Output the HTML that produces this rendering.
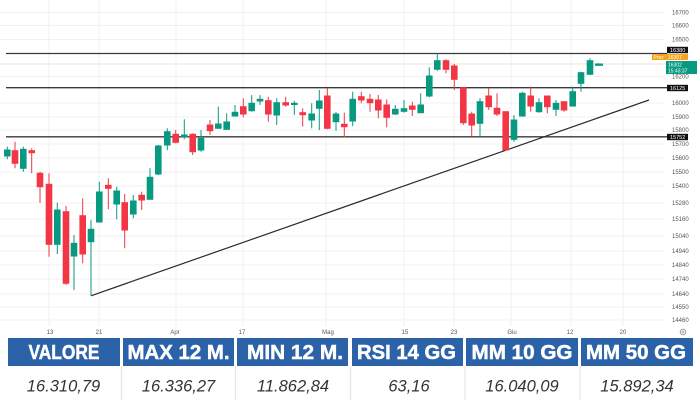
<!DOCTYPE html>
<html>
<head>
<meta charset="utf-8">
<style>
html,body{margin:0;padding:0;background:#fff;}
body{width:700px;height:400px;overflow:hidden;font-family:"Liberation Sans",sans-serif;}
svg{display:block;}
</style>
</head>
<body>
<svg width="700" height="400" viewBox="0 0 700 400" xmlns="http://www.w3.org/2000/svg" font-family="Liberation Sans, sans-serif">
<rect width="700" height="400" fill="#fff"/>
<!-- grid -->
<g stroke="#f1f1f1" stroke-width="1">
<line x1="49" y1="0" x2="49" y2="326"/>
<line x1="99" y1="0" x2="99" y2="326"/>
<line x1="176" y1="0" x2="176" y2="326"/>
<line x1="243" y1="0" x2="243" y2="326"/>
<line x1="326" y1="0" x2="326" y2="326"/>
<line x1="404" y1="0" x2="404" y2="326"/>
<line x1="454" y1="0" x2="454" y2="326"/>
<line x1="511" y1="0" x2="511" y2="326"/>
<line x1="571" y1="0" x2="571" y2="326"/>
<line x1="623" y1="0" x2="623" y2="326"/>
<line x1="0" y1="12.5" x2="664" y2="12.5"/>
<line x1="0" y1="25.5" x2="664" y2="25.5"/>
<line x1="0" y1="39.5" x2="664" y2="39.5"/>
<line x1="0" y1="76.5" x2="664" y2="76.5"/>
<line x1="0" y1="103" x2="664" y2="103"/>
<line x1="0" y1="117" x2="664" y2="117"/>
<line x1="0" y1="130" x2="664" y2="130"/>
<line x1="0" y1="144" x2="664" y2="144"/>
<line x1="0" y1="158" x2="664" y2="158"/>
<line x1="0" y1="172" x2="664" y2="172"/>
<line x1="0" y1="186" x2="664" y2="186"/>
<line x1="0" y1="203" x2="664" y2="203"/>
<line x1="0" y1="219" x2="664" y2="219"/>
<line x1="0" y1="236" x2="664" y2="236"/>
<line x1="0" y1="251" x2="664" y2="251"/>
<line x1="0" y1="265" x2="664" y2="265"/>
<line x1="0" y1="279" x2="664" y2="279"/>
<line x1="0" y1="294" x2="664" y2="294"/>
<line x1="0" y1="307" x2="664" y2="307"/>
<line x1="0" y1="320" x2="664" y2="320"/>
</g>
<!-- current price faint line -->
<line x1="0" y1="64" x2="666" y2="64" stroke="#e9dcbc" stroke-width="0.8"/>
<!-- horizontal levels -->
<g stroke="#3a3a3a" stroke-width="1.3">
<line x1="6" y1="53.5" x2="667" y2="53.5"/>
<line x1="6" y1="87.7" x2="667" y2="87.7"/>
<line x1="6" y1="136.8" x2="667" y2="136.8"/>
</g>
<!-- trend line -->
<line x1="91" y1="295.8" x2="649" y2="100" stroke="#2a2a2a" stroke-width="1.2"/>

<!-- green candles -->
<g fill="#089981" stroke="#089981" stroke-width="1">
<line x1="7.3" y1="146.7" x2="7.3" y2="159.3"/><rect x="4.5" y="150" width="5.6" height="6"/>
<line x1="23.3" y1="146.7" x2="23.3" y2="171.7"/><rect x="20.5" y="149.3" width="5.6" height="19"/>
<line x1="57.3" y1="202.7" x2="57.3" y2="254"/><rect x="54.5" y="210" width="5.6" height="34.3"/>
<line x1="74" y1="235" x2="74" y2="290"/><rect x="71.2" y="243.3" width="5.6" height="12.7"/>
<line x1="91" y1="220" x2="91" y2="295.7"/><rect x="88.2" y="229.3" width="5.6" height="12.4"/>
<line x1="99.3" y1="181.7" x2="99.3" y2="222"/><rect x="96.5" y="192" width="5.6" height="30"/>
<line x1="116.7" y1="186.7" x2="116.7" y2="219.3"/><rect x="113.9" y="191" width="5.6" height="13"/>
<line x1="133.3" y1="195" x2="133.3" y2="218.3"/><rect x="130.5" y="201" width="5.6" height="13"/>
<line x1="150" y1="168.3" x2="150" y2="199.3"/><rect x="147.2" y="177.3" width="5.6" height="22"/>
<line x1="158.3" y1="145" x2="158.3" y2="175"/><rect x="155.5" y="146" width="5.6" height="28"/>
<line x1="167.3" y1="128.3" x2="167.3" y2="150"/><rect x="164.5" y="131.7" width="5.6" height="13.3"/>
<line x1="184.3" y1="119.3" x2="184.3" y2="139.3"/><rect x="181.5" y="135" width="5.6" height="1.7"/>
<line x1="201" y1="130" x2="201" y2="151.7"/><rect x="198.2" y="138.3" width="5.6" height="11.7"/>
<line x1="218.3" y1="106.7" x2="218.3" y2="128.3"/><rect x="215.5" y="124" width="5.6" height="4.3"/>
<line x1="226.7" y1="113.3" x2="226.7" y2="130"/><rect x="223.9" y="122" width="5.6" height="7.3"/>
<line x1="235" y1="105" x2="235" y2="116"/><rect x="232.2" y="112.3" width="5.6" height="3.7"/>
<line x1="251.7" y1="95" x2="251.7" y2="111.7"/><rect x="248.9" y="103.3" width="5.6" height="7.4"/>
<line x1="260" y1="95" x2="260" y2="105"/><rect x="257.2" y="99.3" width="5.6" height="1.7"/>
<line x1="276.7" y1="98.3" x2="276.7" y2="125"/><rect x="273.9" y="102.7" width="5.6" height="12.3"/>
<line x1="294.3" y1="100.7" x2="294.3" y2="115"/><rect x="291.5" y="103.3" width="5.6" height="1.2"/>
<line x1="311.7" y1="103.3" x2="311.7" y2="128.3"/><rect x="308.9" y="114" width="5.6" height="6"/>
<line x1="319.3" y1="90" x2="319.3" y2="130"/><rect x="316.5" y="101" width="5.6" height="7.3"/>
<line x1="336" y1="111.7" x2="336" y2="130.7"/><rect x="333.2" y="114" width="5.6" height="7.7"/>
<line x1="352.7" y1="91.7" x2="352.7" y2="126"/><rect x="349.9" y="99.3" width="5.6" height="21.7"/>
<line x1="395.3" y1="105" x2="395.3" y2="115"/><rect x="392.5" y="109.3" width="5.6" height="4.7"/>
<line x1="404" y1="100" x2="404" y2="112.7"/><rect x="401.2" y="108.7" width="5.6" height="2.6"/>
<line x1="420.7" y1="93.3" x2="420.7" y2="113.3"/><rect x="417.9" y="105" width="5.6" height="7.7"/>
<line x1="429.3" y1="67.3" x2="429.3" y2="97.3"/><rect x="426.5" y="76" width="5.6" height="20"/>
<line x1="437.3" y1="53.3" x2="437.3" y2="70.7"/><rect x="434.5" y="60.7" width="5.6" height="8.6"/>
<line x1="480" y1="98.3" x2="480" y2="136.7"/><rect x="477.2" y="101.7" width="5.6" height="21.6"/>
<line x1="514" y1="115" x2="514" y2="141.7"/><rect x="511.2" y="120" width="5.6" height="19.3"/>
<line x1="522.3" y1="91.7" x2="522.3" y2="116.7"/><rect x="519.5" y="93.3" width="5.6" height="22.7"/>
<line x1="539" y1="98.3" x2="539" y2="112.7"/><rect x="536.2" y="102.7" width="5.6" height="9"/>
<line x1="556" y1="100" x2="556" y2="116"/><rect x="553.2" y="103.3" width="5.6" height="6"/>
<line x1="572.7" y1="86.7" x2="572.7" y2="106.7"/><rect x="569.9" y="91.7" width="5.6" height="14.3"/>
<line x1="581" y1="71.7" x2="581" y2="91.7"/><rect x="578.2" y="72.7" width="5.6" height="10.6"/>
<line x1="590" y1="58.3" x2="590" y2="75"/><rect x="587.2" y="60.7" width="5.6" height="13.6"/>
<line x1="598.3" y1="63" x2="598.3" y2="66"/><rect x="595.5" y="64" width="7" height="1.3"/>
</g>

<!-- red candles -->
<g fill="#f23645" stroke="#f23645" stroke-width="1">
<line x1="15" y1="141.7" x2="15" y2="168.3"/><rect x="12.2" y="150.7" width="5.6" height="12.6"/>
<line x1="31.7" y1="148.3" x2="31.7" y2="173.3"/><rect x="28.9" y="150.7" width="5.6" height="2"/>
<line x1="40" y1="171.7" x2="40" y2="202.7"/><rect x="37.2" y="173.3" width="5.6" height="13.4"/>
<line x1="49" y1="173.3" x2="49" y2="256.7"/><rect x="46.2" y="184.3" width="5.6" height="60"/>
<line x1="66" y1="206" x2="66" y2="285"/><rect x="63.2" y="211.7" width="5.6" height="71.6"/>
<line x1="82.7" y1="198.3" x2="82.7" y2="263.3"/><rect x="79.9" y="215.7" width="5.6" height="38.3"/>
<line x1="108.3" y1="178.3" x2="108.3" y2="209.3"/><rect x="105.5" y="185.3" width="5.6" height="3"/>
<line x1="124.7" y1="194" x2="124.7" y2="248.3"/><rect x="121.9" y="202.7" width="5.6" height="27.3"/>
<line x1="141.7" y1="191.7" x2="141.7" y2="210"/><rect x="138.9" y="195.3" width="5.6" height="4.7"/>
<line x1="175.7" y1="130" x2="175.7" y2="143.3"/><rect x="172.9" y="134.3" width="5.6" height="8"/>
<line x1="192.7" y1="133.3" x2="192.7" y2="155"/><rect x="189.9" y="134.3" width="5.6" height="17.4"/>
<line x1="210" y1="120" x2="210" y2="135"/><rect x="207.2" y="125" width="5.6" height="5.7"/>
<line x1="243.3" y1="98.3" x2="243.3" y2="117.3"/><rect x="240.5" y="106.7" width="5.6" height="7.3"/>
<line x1="268.3" y1="96.7" x2="268.3" y2="121.7"/><rect x="265.5" y="100.7" width="5.6" height="13.3"/>
<line x1="285.7" y1="96.7" x2="285.7" y2="106.7"/><rect x="282.9" y="102.7" width="5.6" height="2.3"/>
<line x1="302.7" y1="108.3" x2="302.7" y2="126.7"/><rect x="299.9" y="112.7" width="5.6" height="2"/>
<line x1="327.3" y1="88.3" x2="327.3" y2="129.3"/><rect x="324.5" y="96" width="5.6" height="32.3"/>
<line x1="344.3" y1="112.7" x2="344.3" y2="137.3"/><rect x="341.5" y="124.3" width="5.6" height="2.4"/>
<line x1="361.3" y1="91.7" x2="361.3" y2="103.3"/><rect x="358.5" y="96.7" width="5.6" height="3.3"/>
<line x1="370" y1="94" x2="370" y2="111.7"/><rect x="367.2" y="99.3" width="5.6" height="3.4"/>
<line x1="378.3" y1="95" x2="378.3" y2="118.3"/><rect x="375.5" y="100" width="5.6" height="10"/>
<line x1="386.7" y1="99.3" x2="386.7" y2="127.3"/><rect x="383.9" y="105" width="5.6" height="12.3"/>
<line x1="412.3" y1="101.7" x2="412.3" y2="116"/><rect x="409.5" y="106" width="5.6" height="3.3"/>
<line x1="446" y1="59.3" x2="446" y2="73.3"/><rect x="443.2" y="60.7" width="5.6" height="8.6"/>
<line x1="454.3" y1="64" x2="454.3" y2="90"/><rect x="451.5" y="66" width="5.6" height="13.3"/>
<line x1="463.3" y1="87.7" x2="463.3" y2="125"/><rect x="460.5" y="87.7" width="5.6" height="35"/>
<line x1="471.7" y1="111.7" x2="471.7" y2="136.7"/><rect x="468.9" y="114" width="5.6" height="11"/>
<line x1="488.7" y1="88.3" x2="488.7" y2="110"/><rect x="485.9" y="96" width="5.6" height="10.7"/>
<line x1="497" y1="93.3" x2="497" y2="116"/><rect x="494.2" y="108.3" width="5.6" height="5.7"/>
<line x1="505.7" y1="111.7" x2="505.7" y2="150.7"/><rect x="502.9" y="111.7" width="5.6" height="38.3"/>
<line x1="530.7" y1="86.7" x2="530.7" y2="111.7"/><rect x="527.9" y="96" width="5.6" height="10"/>
<line x1="547.3" y1="96" x2="547.3" y2="113.3"/><rect x="544.5" y="96" width="5.6" height="10.7"/>
<line x1="564" y1="101.7" x2="564" y2="111.7"/><rect x="561.2" y="101.7" width="5.6" height="8.3"/>
</g>

<!-- price axis labels -->
<g font-size="6" fill="#555">
<text x="672" y="14.5">16700</text>
<text x="672" y="27.5">16600</text>
<text x="672" y="41.5">16500</text>
<text x="672" y="78.5">16200</text>
<text x="672" y="105">16000</text>
<text x="672" y="119">15900</text>
<text x="672" y="132">15800</text>
<text x="672" y="146">15700</text>
<text x="672" y="160">15600</text>
<text x="672" y="174">15500</text>
<text x="672" y="188">15400</text>
<text x="672" y="205">15280</text>
<text x="672" y="221">15160</text>
<text x="672" y="238">15040</text>
<text x="672" y="253">14940</text>
<text x="672" y="267">14840</text>
<text x="672" y="281">14740</text>
<text x="672" y="296">14640</text>
<text x="672" y="309">14550</text>
<text x="672" y="322">14460</text>
</g>
<!-- level boxes -->
<g font-size="5.5" fill="#fff">
<rect x="667" y="46.8" width="21" height="6.4" fill="#111"/>
<text x="670" y="51.8">16380</text>
<rect x="667" y="84.8" width="21" height="6.4" fill="#111"/>
<text x="670" y="89.8">16125</text>
<rect x="667" y="133.8" width="21" height="6.4" fill="#111"/>
<text x="670" y="138.8">15752</text>
<rect x="652" y="54" width="36" height="6" fill="#f7a21b"/>
<text x="653.5" y="58.8" font-size="5">Prec</text>
<text x="668" y="58.8" font-size="5">16307</text>
<rect x="666" y="61" width="31" height="13" fill="#089981"/>
<text x="668" y="66.5" font-size="5">16302</text>
<text x="668" y="72.3" font-size="5">15:43:37</text>
</g>
<!-- x-axis labels -->
<g font-size="6" fill="#555" text-anchor="middle">
<text x="50" y="334">13</text>
<text x="99" y="334">21</text>
<text x="175" y="334">Apr</text>
<text x="242" y="334">17</text>
<text x="328" y="334">Mag</text>
<text x="405" y="334">15</text>
<text x="454" y="334">23</text>
<text x="512" y="334">Giu</text>
<text x="570" y="334">12</text>
<text x="623" y="334">20</text>
</g>
<circle cx="683" cy="332" r="2.8" fill="none" stroke="#888" stroke-width="0.8"/>
<circle cx="683" cy="332" r="1" fill="none" stroke="#888" stroke-width="0.6"/>

<!-- table header -->
<g fill="#2c62a8">
<rect x="8" y="338" width="112" height="28"/>
<rect x="123" y="338" width="111" height="28"/>
<rect x="237" y="338" width="111" height="28"/>
<rect x="352" y="338" width="111" height="28"/>
<rect x="466" y="338" width="112" height="28"/>
<rect x="581" y="338" width="112" height="28"/>
</g>
<g fill="#fff" stroke="#fff" stroke-width="0.5" font-weight="bold" font-size="20" text-anchor="middle">
<text x="64" y="359" textLength="71" lengthAdjust="spacingAndGlyphs">VALORE</text>
<text x="178.5" y="359" textLength="102" lengthAdjust="spacingAndGlyphs">MAX 12 M.</text>
<text x="295" y="359" textLength="96" lengthAdjust="spacingAndGlyphs">MIN 12 M.</text>
<text x="406.5" y="359" textLength="99" lengthAdjust="spacingAndGlyphs">RSI 14 GG</text>
<text x="522" y="359" textLength="101" lengthAdjust="spacingAndGlyphs">MM 10 GG</text>
<text x="636" y="359" textLength="100" lengthAdjust="spacingAndGlyphs">MM 50 GG</text>
</g>
<!-- value row separators -->
<g stroke="#e6e6e6" stroke-width="1.2">
<line x1="121.5" y1="366" x2="121.5" y2="400"/>
<line x1="235.5" y1="366" x2="235.5" y2="400"/>
<line x1="350.5" y1="366" x2="350.5" y2="400"/>
<line x1="465" y1="366" x2="465" y2="400"/>
<line x1="580" y1="366" x2="580" y2="400"/>
</g>
<g fill="#333" font-style="italic" font-size="16.5" text-anchor="middle">
<text x="63.5" y="391.5">16.310,79</text>
<text x="178.5" y="391.5">16.336,27</text>
<text x="293" y="391.5">11.862,84</text>
<text x="409" y="391.5">63,16</text>
<text x="522" y="391.5">16.040,09</text>
<text x="637" y="391.5">15.892,34</text>
</g>
</svg>
</body>
</html>
